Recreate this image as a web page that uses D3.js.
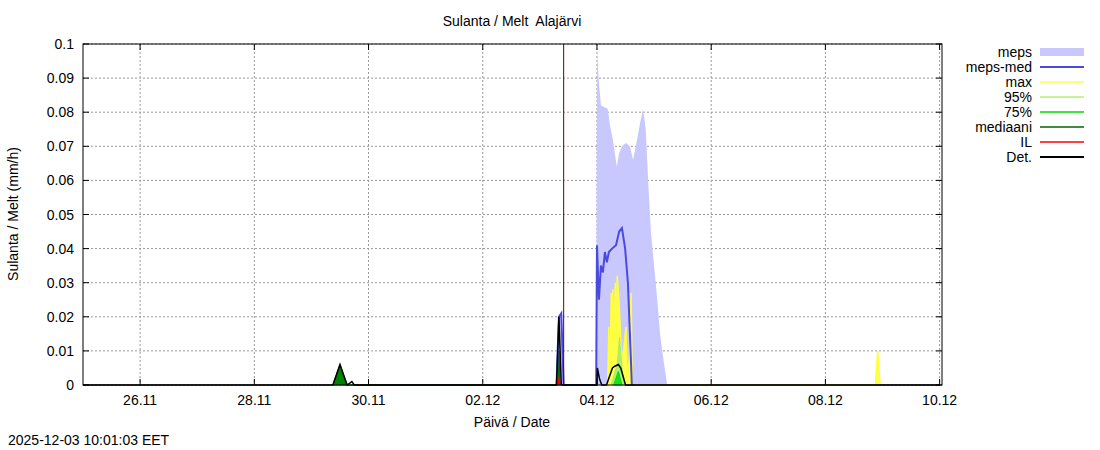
<!DOCTYPE html><html><head><meta charset="utf-8"><script src="https://cdn.jsdelivr.net/npm/d3@7"></script>
<style>body{margin:0;background:#fff}text{font-family:"Liberation Sans",Arial,sans-serif;font-size:14px}</style></head><body><svg id="c" width="1100" height="450"></svg><script>
const xTicks=["26.11","28.11","30.11","02.12","04.12","06.12","08.12","10.12"];
const xTickDates=["2025-11-26 00:00","2025-11-28 00:00","2025-11-30 00:00","2025-12-02 00:00","2025-12-04 00:00","2025-12-06 00:00","2025-12-08 00:00","2025-12-10 00:00"];
const yTicks=[0,0.01,0.02,0.03,0.04,0.05,0.06,0.07,0.08,0.09,0.1];
const nowTime="2025-12-03 10:00";
const meps=[["2025-12-03 07:00",0],["2025-12-03 08:00",0.02],["2025-12-03 09:00",0.021],["2025-12-03 10:00",0],
["2025-12-03 23:40",0],["2025-12-04 00:00",0.098],["2025-12-04 00:40",0.09],["2025-12-04 01:40",0.082],["2025-12-04 04:30",0.081],["2025-12-04 05:30",0.076],["2025-12-04 06:40",0.072],["2025-12-04 08:20",0.064],["2025-12-04 09:20",0.068],["2025-12-04 10:30",0.070],["2025-12-04 12:10",0.071],["2025-12-04 13:50",0.070],["2025-12-04 15:10",0.066],["2025-12-04 16:20",0.070],["2025-12-04 18:10",0.077],["2025-12-04 19:20",0.081],["2025-12-04 20:30",0.075],["2025-12-04 21:30",0.060],["2025-12-04 22:40",0.045],["2025-12-05 00:00",0.035],["2025-12-05 01:20",0.025],["2025-12-05 02:30",0.015],["2025-12-05 03:50",0.008],["2025-12-05 05:30",0]];
const mepsMed=[["2025-12-03 07:00",0],["2025-12-03 08:00",0.020],["2025-12-03 09:00",0.021],["2025-12-03 10:00",0],
["2025-12-03 23:40",0],["2025-12-04 00:00",0.041],["2025-12-04 00:50",0.025],["2025-12-04 01:40",0.035],["2025-12-04 02:30",0.033],["2025-12-04 03:20",0.039],["2025-12-04 04:10",0.036],["2025-12-04 05:00",0.039],["2025-12-04 06:20",0.040],["2025-12-04 08:00",0.041],["2025-12-04 09:20",0.045],["2025-12-04 10:30",0.046],["2025-12-04 11:50",0.040],["2025-12-04 13:00",0.030],["2025-12-04 13:50",0.015],["2025-12-04 14:40",0]];
const maxS=[["2025-12-04 04:30",0],["2025-12-04 05:00",0.017],["2025-12-04 05:30",0],["2025-12-04 06:00",0.027],["2025-12-04 06:20",0.005],["2025-12-04 06:40",0.028],["2025-12-04 07:10",0.01],["2025-12-04 07:40",0.030],["2025-12-04 08:00",0.005],["2025-12-04 08:30",0.032],["2025-12-04 09:20",0.024],["2025-12-04 10:10",0.010],["2025-12-04 11:00",0.009],["2025-12-04 12:10",0.017],["2025-12-04 12:40",0.002],["2025-12-04 13:30",0.007],["2025-12-04 14:20",0.027],["2025-12-04 14:50",0],
["2025-12-08 21:00",0],["2025-12-08 22:00",0.010],["2025-12-08 23:00",0]];
const p95=[["2025-12-04 06:00",0],["2025-12-04 08:30",0.006],["2025-12-04 09:30",0.014],["2025-12-04 10:30",0.005],["2025-12-04 11:30",0]];
const p75=[["2025-12-04 07:00",0],["2025-12-04 09:00",0.004],["2025-12-04 10:30",0]];
const median=[["2025-11-29 09:00",0],["2025-11-29 12:00",0.006],["2025-11-29 15:00",0],["2025-12-03 07:30",0],["2025-12-03 08:00",0.01],["2025-12-03 08:30",0]];
const il=[["2025-12-03 07:30",0],["2025-12-03 08:00",0.002],["2025-12-03 08:30",0]];
const det=[["2025-11-25 00:00",0],["2025-11-29 09:00",0],["2025-11-29 12:00",0.006],["2025-11-29 15:00",0],["2025-11-29 17:00",0.001],["2025-11-29 18:00",0],["2025-12-03 07:00",0],["2025-12-03 08:00",0.020],["2025-12-03 09:00",0],["2025-12-04 00:00",0],["2025-12-04 00:10",0.005],["2025-12-04 01:00",0.002],["2025-12-04 02:00",0],["2025-12-04 04:00",0],["2025-12-04 06:30",0.005],["2025-12-04 07:30",0.0055],["2025-12-04 09:00",0.006],["2025-12-04 10:00",0.005],["2025-12-04 12:00",0],["2025-12-10 00:00",0]];
const P=d3.timeParse("%Y-%m-%d %H:%M");
const svg=d3.select("#c");
const L=83,R=942,T=44,B=385;
const x=d3.scaleTime().domain([P("2025-11-25 00:00"),P("2025-12-10 01:00")]).range([L,R]);
const y=d3.scaleLinear().domain([0,0.1]).range([B,T]);
const g=svg.append("g");
xTickDates.forEach(d=>g.append("line").attr("x1",x(P(d))).attr("x2",x(P(d))).attr("y1",T).attr("y2",B).attr("stroke","#999").attr("stroke-dasharray","2,2"));
yTicks.forEach(v=>g.append("line").attr("x1",L).attr("x2",R).attr("y1",y(v)).attr("y2",y(v)).attr("stroke","#999").attr("stroke-dasharray","2,2"));
const area=d3.area().x(d=>x(P(d[0]))).y0(B).y1(d=>y(d[1]));
const line=d3.line().x(d=>x(P(d[0]))).y(d=>y(d[1]));
g.append("path").attr("d",area(meps)).attr("fill","#c8c8ff");
g.append("path").attr("d",line(maxS)).attr("fill","#ffff50").attr("stroke","#ffff40").attr("stroke-width",1.5);
g.append("path").attr("d",area(p95)).attr("fill","#b0f070").attr("stroke","#a0ee60");
g.append("path").attr("d",area(p75)).attr("fill","#20dd20").attr("stroke","#00dd00");
g.append("path").attr("d",area(median)).attr("fill","#008000").attr("stroke","#006400");
g.append("path").attr("d",line(il)).attr("fill","none").attr("stroke","#f00").attr("stroke-width",1.5);
g.append("path").attr("d",line(mepsMed)).attr("fill","none").attr("stroke","#4a4ae0").attr("stroke-width",2);
g.append("path").attr("d",line(det)).attr("fill","none").attr("stroke","#000").attr("stroke-width",1.5);
g.append("line").attr("x1",x(P(nowTime))).attr("x2",x(P(nowTime))).attr("y1",T).attr("y2",B).attr("stroke","#600").attr("stroke-width",1);
g.append("rect").attr("x",L).attr("y",T).attr("width",R-L).attr("height",B-T).attr("fill","none").attr("stroke","#000");
xTickDates.forEach((d,i)=>{const xx=x(P(d));g.append("line").attr("x1",xx).attr("x2",xx).attr("y1",B).attr("y2",B-6).attr("stroke","#000");g.append("line").attr("x1",xx).attr("x2",xx).attr("y1",T).attr("y2",T+6).attr("stroke","#000");g.append("text").attr("x",xx).attr("y",B+20).attr("text-anchor","middle").text(xTicks[i]);});
yTicks.forEach(v=>{g.append("line").attr("x1",L).attr("x2",L+6).attr("y1",y(v)).attr("y2",y(v)).attr("stroke","#000");g.append("line").attr("x1",R).attr("x2",R-6).attr("y1",y(v)).attr("y2",y(v)).attr("stroke","#000");g.append("text").attr("x",L-9).attr("y",y(v)+5).attr("text-anchor","end").text(v===0?"0":String(+v.toFixed(2)));});
svg.append("text").attr("x",512).attr("y",26).attr("text-anchor","middle").attr("xml:space","preserve").style("white-space","pre").text("Sulanta / Melt  Alajärvi");
svg.append("text").attr("x",512).attr("y",427).attr("text-anchor","middle").text("Päivä / Date");
svg.append("text").attr("transform","translate(18,214) rotate(-90)").attr("text-anchor","middle").text("Sulanta / Melt (mm/h)");
svg.append("text").attr("x",8).attr("y",445).text("2025-12-03 10:01:03 EET");
const leg=[["meps","#c8c8ff",8],["meps-med","#4a4ae0",2],["max","#ffff40",1.5],["95%","#b0f070",1.5],["75%","#00dd00",1.5],["mediaani","#006400",1.5],["IL","#f00",1.5],["Det.","#000",2]];
leg.forEach((l,i)=>{const yy=52+i*15;svg.append("text").attr("x",1032).attr("y",yy+5).attr("text-anchor","end").text(l[0]);svg.append("line").attr("x1",1040).attr("x2",1084).attr("y1",yy).attr("y2",yy).attr("stroke",l[1]).attr("stroke-width",l[2]);});
</script></body></html>
